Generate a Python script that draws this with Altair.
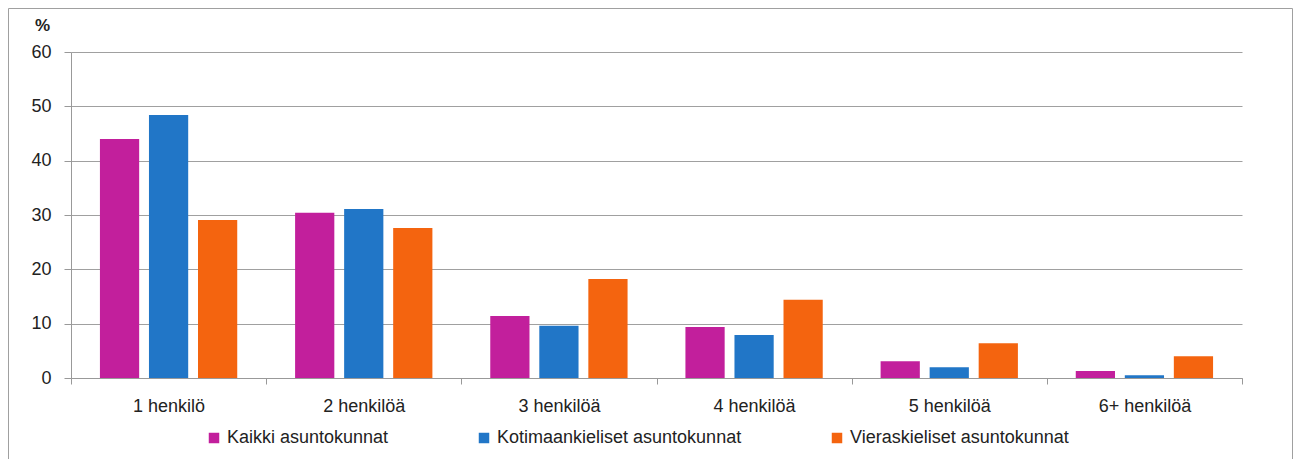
import altair as alt
import pandas as pd

categories = ["1 henkilö", "2 henkilöä", "3 henkilöä", "4 henkilöä", "5 henkilöä", "6+ henkilöä"]
series = ["Kaikki asuntokunnat", "Kotimaankieliset asuntokunnat", "Vieraskieliset asuntokunnat"]
kaikki = [44.0, 30.4, 11.4, 9.4, 3.1, 1.3]
kotimaa = [48.4, 31.1, 9.6, 7.9, 2.0, 0.5]
vieras = [29.1, 27.6, 18.2, 14.4, 6.4, 4.0]
colors = ["#C21F9C", "#2176C7", "#F4640F"]
y_ticks = [0, 10, 20, 30, 40, 50, 60]

rows = []
for s, vals in zip(series, [kaikki, kotimaa, vieras]):
    for c, v in zip(categories, vals):
        rows.append({"cat": c, "series": s, "value": v})
df = pd.DataFrame(rows)

W, H = 1171, 326
PL, PT, PR, PB = 63, 44, 51, 81
FONT = "Liberation Sans"
FS = 18

bars = alt.Chart(df).mark_bar().encode(
    x=alt.X("cat:N", sort=categories, title=None,
            scale=alt.Scale(paddingInner=0, paddingOuter=0),
            axis=alt.Axis(labelAngle=0, labelFontSize=FS, labelColor="#222222",
                          labelFont=FONT, labelPadding=13, tickBand="extent",
                          tickSize=6, tickColor="#999999", domainColor="#999999",
                          grid=False)),
    xOffset=alt.XOffset("series:N", sort=series,
                        scale=alt.Scale(paddingInner=0.2, paddingOuter=0.59)),
    y=alt.Y("value:Q", title=None,
            scale=alt.Scale(domain=[0, 60]),
            axis=alt.Axis(values=y_ticks, labelFontSize=FS, labelColor="#222222",
                          labelFont=FONT, labelPadding=13, tickSize=7,
                          tickColor="#999999", domainColor="#999999",
                          gridColor="#A0A0A0", gridWidth=1)),
    color=alt.Color("series:N", sort=series,
                    scale=alt.Scale(domain=series, range=colors),
                    legend=alt.Legend(orient="none", direction="horizontal",
                                      legendX=134, legendY=377,
                                      title=None, symbolType="square", symbolSize=110,
                                      symbolStrokeWidth=0, labelLimit=0,
                                      labelFontSize=FS, labelFont=FONT, labelColor="#222222",
                                      columnPadding=86, symbolOffset=0, labelOffset=4,
                                      padding=0)),
)

frame = alt.Chart(pd.DataFrame({"k": [0]})).mark_rect(
    fill=None, stroke="#A0A0A0", strokeWidth=1
).encode(
    x=alt.value(-PL + 0.5), x2=alt.value(W + PR - 0.5),
    y=alt.value(-PT + 0.5), y2=alt.value(H + PB + 20),
)

pct = alt.Chart(pd.DataFrame({"t": ["%"]})).mark_text(
    align="left", baseline="middle", fontSize=17, fontWeight="bold",
    font=FONT, color="#222222"
).encode(x=alt.value(-36), y=alt.value(-26.5), text="t:N")

chart = alt.layer(frame, bars, pct).properties(
    width=W, height=H,
    autosize=alt.AutoSizeParams(type="none"),
    padding={"left": PL, "top": PT, "right": PR, "bottom": PB},
).configure_view(stroke=None)

chart.save("out.html", embed_options={"renderer": "svg", "actions": False})
